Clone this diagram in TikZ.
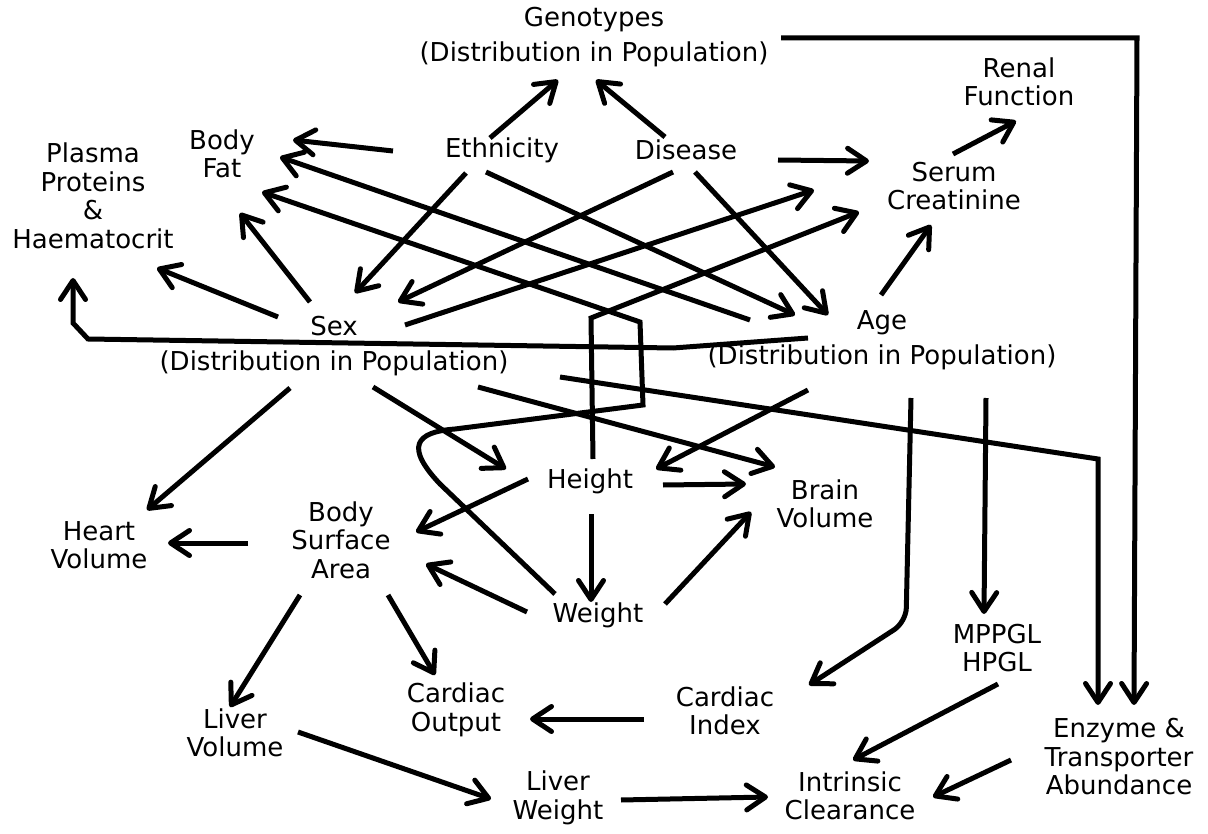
\documentclass[tikz,border=0pt]{standalone}
\usepackage{fontspec}
\setmainfont{DejaVu Sans}
\usetikzlibrary{arrows.meta,calc}
\tikzset{
%Define standard arrow tip
    >={Straight Barb[length=19pt,width=25pt,round]},
%Define style for labels
    lbl/.style={
           align=center,
           inner sep=0pt,
           font=\fontsize{26}{28.5}\selectfont},
    lbl2/.style={
           lbl,
           font=\fontsize{26}{35}\selectfont},
% Define arrow style
    pil/.style={
           ->,
           line width=5pt}
}
\begin{document}
\begin{tikzpicture}[x=1pt, y=-1pt]
\useasboundingbox (0,0) rectangle (1208,834);
% top row
\node[lbl2] (geno) at (594,37) {Genotypes\\(Distribution in Population)};
\node[lbl] (renal) at (1019,82) {Renal\\Function};
\node[lbl] (plasma) at (93,196) {Plasma\\Proteins\\\&\\Haematocrit};
\node[lbl] (fat) at (222,154) {Body\\Fat};
\node[lbl] (eth) at (502,150) {Ethnicity};
\node[lbl] (dis) at (686,150) {Disease};
\node[lbl] (serum) at (954,186) {Serum\\Creatinine};
% population
\node[lbl2] (sex) at (334,346) {Sex\\(Distribution in Population)};
\node[lbl2] (age) at (882,340) {Age\\(Distribution in Population)};
% body
\node[lbl] (height) at (590,481) {Height};
\node[lbl] (brain) at (825,504) {Brain\\Volume};
\node[lbl] (heart) at (99,545) {Heart\\Volume};
\node[lbl] (bsa) at (341,540) {Body\\Surface\\Area};
\node[lbl] (weight) at (598,615) {Weight};
\node[lbl] (mppgl) at (997,648) {MPPGL\\HPGL};
\node[lbl] (cout) at (456,710) {Cardiac\\Output};
\node[lbl] (cidx) at (725,711) {Cardiac\\Index};
\node[lbl] (livvol) at (235,733) {Liver\\Volume};
\node[lbl] (livwt) at (558,798) {Liver\\Weight};
\node[lbl] (clear) at (850,796) {Intrinsic\\Clearance};
\node[lbl] (enz) at (1119,757) {Enzyme \&\\Transporter\\Abundance};
% ethnicity and disease
\draw[pil] ($(eth)+(-12,-12)$) -- ($(geno)+(-36,43)$);
\draw[pil] ($(dis)+(-21,-13)$) -- ($(geno)+(2,43)$);
\draw[pil] ($(eth)+(-109,1)$) -- ($(fat)+(71,-14)$);
\draw[pil] ($(dis)+(92,10)$) -- ($(serum)+(-85,-25)$);
\draw[pil] ($(eth)+(-36,23)$) -- ($(sex)+(21,-53)$);
\draw[pil] ($(eth)+(-16,22)$) -- ($(age)+(-87,-25)$);
\draw[pil] ($(dis)+(-13,22)$) -- ($(sex)+(64,-44)$);
\draw[pil] ($(dis)+(9,22)$) -- ($(age)+(-54,-25)$);
\draw[pil] ($(serum)+(-1,-32)$) -- ($(renal)+(-3,39)$);
% sex
\draw[pil] ($(sex)+(71,-21)$) -- ($(serum)+(-140,4)$);
\draw[pil] ($(sex)+(-24,-44)$) -- ($(fat)+(18,59)$);
\draw[pil] ($(sex)+(-56,-29)$) -- ($(plasma)+(64,72)$);
\draw[pil] ($(sex)+(-44,42)$) -- ($(heart)+(48,-35)$);
\draw[pil] ($(sex)+(39,41)$) -- ($(height)+(-84,-12)$);
\draw[pil] ($(sex)+(144,41)$) -- ($(brain)+(-50,-37)$);
\draw[pil] ($(sex)+(226,31)$) -- (1098,459) -- ($(enz)+(-21,-52)$);
% age
\draw[pil] ($(age)+(-1,-45)$) -- ($(serum)+(-23,39)$);
\draw[pil] ($(age)+(-132,-20)$) -- ($(fat)+(58,3)$);
\draw[pil] ($(age)+(-74,-2)$) -- (673,348) -- (88,339) -- (73,323) -- ($(plasma)+(-20,82)$);
\draw[pil] ($(age)+(-74,50)$) -- ($(height)+(66,-12)$);
\draw[pil, rounded corners=14pt] ($(age)+(29,58)$) -- (906,622) -- ($(cidx)+(84,-26)$);
\draw[pil] ($(age)+(104,58)$) -- ($(mppgl)+(-13,-34)$);
\draw[pil] ($(geno)+(187,1)$) -- (1137,38) -- ($(enz)+(15,-52)$);
% height and weight
\draw[pil] ($(height)+(3,-22)$) -- (591,318) -- ($(serum)+(-95,26)$);
\draw[pil] ($(weight)+(-43,-21)$) -- (440,484) .. controls (405,447) and (415,432) .. (455,429) -- (643,405) -- (640,322) -- ($(fat)+(40,38)$);
\draw[pil] ($(height)+(-62,-2)$) -- ($(bsa)+(75,-8)$);
\draw[pil] ($(height)+(73,4)$) -- ($(brain)+(-79,-20)$);
\draw[pil] ($(height)+(1,33)$) -- ($(weight)+(-7,-13)$);
\draw[pil] ($(weight)+(-71,-3)$) -- ($(bsa)+(85,24)$);
\draw[pil] ($(weight)+(67,-11)$) -- ($(brain)+(-74,8)$);
% lower part
\draw[pil] ($(bsa)+(-93,3)$) -- ($(heart)+(69,-2)$);
\draw[pil] ($(bsa)+(-41,55)$) -- ($(livvol)+(-5,-26)$);
\draw[pil] ($(bsa)+(47,55)$) -- ($(cout)+(-21,-35)$);
\draw[pil] ($(livvol)+(63,-1)$) -- ($(livwt)+(-67,1)$);
\draw[pil] ($(livwt)+(63,2)$) -- ($(clear)+(-82,1)$);
\draw[pil] ($(cidx)+(-81,8)$) -- ($(cout)+(74,9)$);
\draw[pil] ($(mppgl)+(1,36)$) -- ($(clear)+(3,-36)$);
\draw[pil] ($(enz)+(-108,3)$) -- ($(clear)+(83,1)$);
\end{tikzpicture}
\end{document}
